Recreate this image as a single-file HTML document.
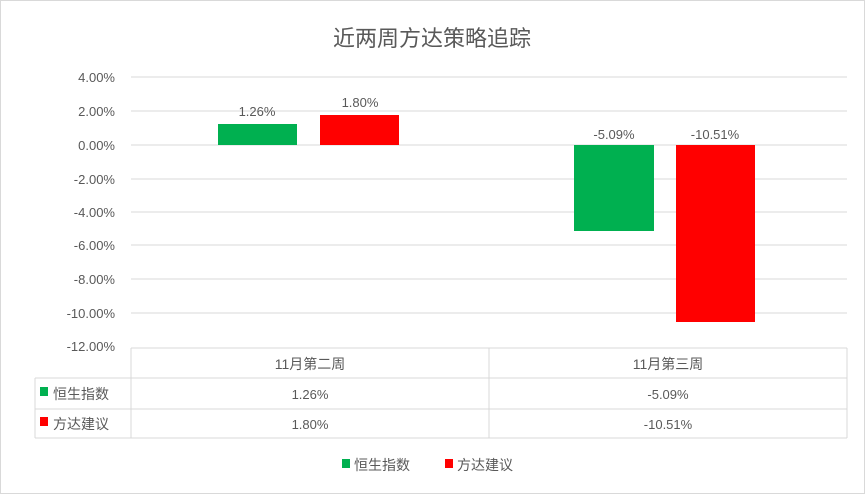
<!DOCTYPE html><html><head><meta charset="utf-8"><style>
body{margin:0;background:#fff}
svg text{font-family:"Liberation Sans","Noto Sans CJK SC",sans-serif;fill:#595959}
</style></head><body>
<svg width="865" height="494" xmlns="http://www.w3.org/2000/svg">
<rect x="0.5" y="0.5" width="864" height="493" fill="#fff" stroke="#d9d9d9"/>
<text x="432" y="46" font-size="22" text-anchor="middle">近两周方达策略追踪</text>
<g stroke="#d9d9d9" stroke-width="1">
<line x1="131" x2="847" y1="77" y2="77"/><line x1="131" x2="847" y1="111" y2="111"/>
<line x1="131" x2="847" y1="145" y2="145"/><line x1="131" x2="847" y1="179" y2="179"/>
<line x1="131" x2="847" y1="212" y2="212"/><line x1="131" x2="847" y1="245" y2="245"/>
<line x1="131" x2="847" y1="279" y2="279"/><line x1="131" x2="847" y1="313" y2="313"/>
</g>
<g font-size="13" text-anchor="end">
<text x="115" y="82">4.00%</text><text x="115" y="116">2.00%</text><text x="115" y="150">0.00%</text>
<text x="115" y="184">-2.00%</text><text x="115" y="217">-4.00%</text><text x="115" y="250">-6.00%</text>
<text x="115" y="284">-8.00%</text><text x="115" y="318">-10.00%</text><text x="115" y="351">-12.00%</text>
</g>
<rect x="218" y="124" width="79" height="21" fill="#00B050"/>
<rect x="320" y="115" width="79" height="30" fill="#FF0000"/>
<rect x="574" y="145" width="80" height="86" fill="#00B050"/>
<rect x="676" y="145" width="79" height="177" fill="#FF0000"/>
<g font-size="13" text-anchor="middle">
<text x="257" y="116">1.26%</text><text x="360" y="107">1.80%</text>
<text x="614" y="139">-5.09%</text><text x="715" y="139">-10.51%</text>
</g>
<g stroke="#d9d9d9" stroke-width="1" fill="none">
<line x1="131" x2="847" y1="348" y2="348"/>
<line x1="35" x2="847" y1="378" y2="378"/>
<line x1="35" x2="847" y1="409" y2="409"/>
<line x1="35" x2="847" y1="438" y2="438"/>
<line x1="131" x2="131" y1="348" y2="438"/>
<line x1="489" x2="489" y1="348" y2="438"/>
<line x1="847" x2="847" y1="348" y2="438"/>
<line x1="35" x2="35" y1="378" y2="438"/>
</g>
<g font-size="13" text-anchor="middle">
<text x="310" y="369" font-size="14">11月第二周</text><text x="668" y="369" font-size="14">11月第三周</text>
<text x="310" y="399">1.26%</text><text x="668" y="399">-5.09%</text>
<text x="310" y="429">1.80%</text><text x="668" y="429">-10.51%</text>
</g>
<rect x="40" y="387" width="8" height="9" fill="#00B050"/>
<text x="53" y="399" font-size="14">恒生指数</text>
<rect x="40" y="417" width="8" height="9" fill="#FF0000"/>
<text x="53" y="429" font-size="14">方达建议</text>
<rect x="342" y="459" width="8" height="9" fill="#00B050"/>
<text x="354" y="470" font-size="14">恒生指数</text>
<rect x="445" y="459" width="8" height="9" fill="#FF0000"/>
<text x="457" y="470" font-size="14">方达建议</text>
</svg>
</body></html>
